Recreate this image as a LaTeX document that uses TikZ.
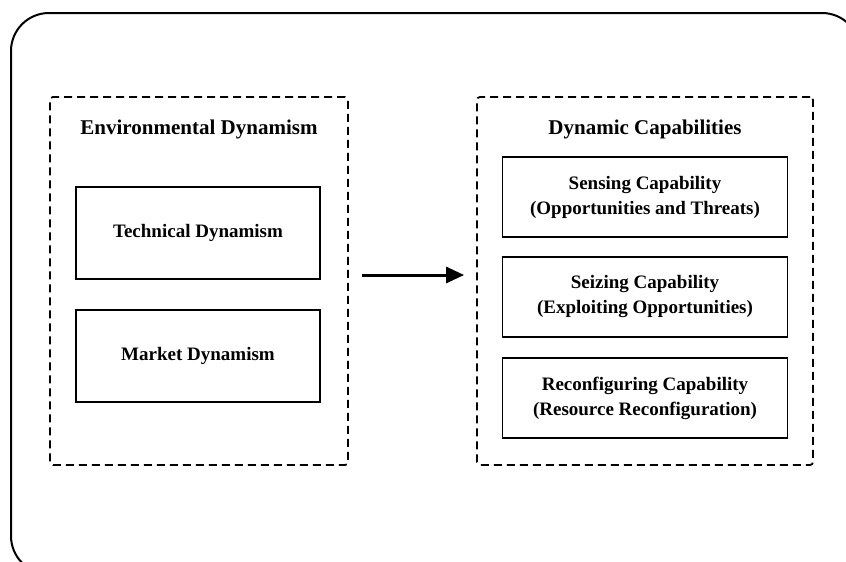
\documentclass[tikz,border=0pt]{standalone}
\usepackage{fontspec}
\setmainfont{Liberation Serif}
\usetikzlibrary{arrows.meta}
\begin{document}
\begin{tikzpicture}[x=1pt,y=-1pt,
  group/.style={draw=black, line width=1.8pt, dash pattern=on 8pt off 5pt,
    rounded corners=3pt, minimum width=#1, minimum height=368pt, inner sep=0pt},
  itembox/.style={draw=black, line width=1.8pt, minimum width=#1, align=center,
    font=\fontsize{19}{25}\selectfont\bfseries, inner sep=0pt},
  heading/.style={font=\fontsize{21}{25}\selectfont\bfseries, inner sep=0pt},
  flow/.style={line width=3pt, -{Triangle[length=18pt,width=16pt]}}]
  \useasboundingbox (0,0) rectangle (846,562);
  \clip (0,0) rectangle (846,562);

  % outer rounded frame
  \draw[line width=2pt, rounded corners=38pt] (11,13) rectangle (860,574);

  % the two groups
  \node[group=298pt] (env) at (199,281) {};
  \node[group=336pt] (cap) at (645,281) {};

  \node[heading] (envtitle) at (199,129) {Environmental Dynamism};
  \node[heading] (captitle) at (645,129) {Dynamic Capabilities};

  % left group members
  \node[itembox=244pt, minimum height=92pt] (tech) at (198,233) {Technical Dynamism};
  \node[itembox=244pt, minimum height=92pt] (market) at (198,356) {Market Dynamism};

  % right group members
  \node[itembox=285pt, minimum height=80pt] (sense) at (645,197)
    {Sensing Capability\\(Opportunities and Threats)};
  \node[itembox=285pt, minimum height=80pt] (seize) at (645,297)
    {Seizing Capability\\(Exploiting Opportunities)};
  \node[itembox=285pt, minimum height=80pt] (reconf) at (645,398)
    {Reconfiguring Capability\\(Resource Reconfiguration)};

  % influence arrow
  \draw[flow, shorten <=13pt, shorten >=12pt] (env.east |- 0,275) -- (cap.west |- 0,275);
\end{tikzpicture}
\end{document}
